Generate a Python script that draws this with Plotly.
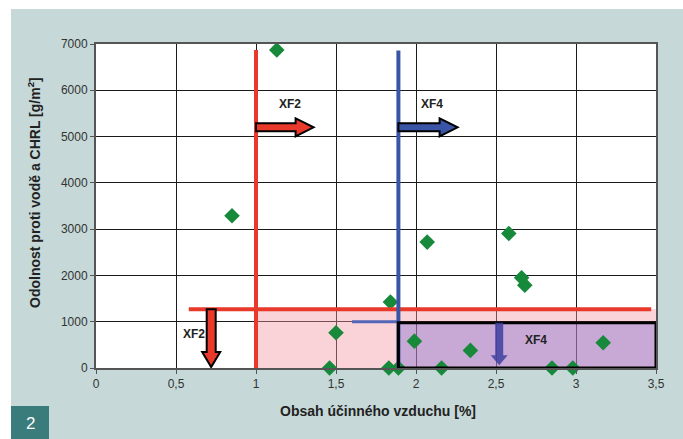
import plotly.graph_objects as go

# ---------------- data ----------------
air_content = [1.13, 0.85, 1.46, 1.50, 1.84, 1.83, 1.89, 1.99, 2.07, 2.16,
               2.34, 2.58, 2.66, 2.68, 2.85, 2.98, 3.17]
resistance = [6870, 3290, 0, 760, 1425, 0, 0, 580, 2720, 0,
              380, 2905, 1950, 1790, 0, 0, 545]

x_ticks = [0, 0.5, 1, 1.5, 2, 2.5, 3, 3.5]
x_tick_labels = ["0", "0,5", "1", "1,5", "2", "2,5", "3", "3,5"]
y_ticks = [0, 1000, 2000, 3000, 4000, 5000, 6000, 7000]
y_tick_labels = [str(v) for v in y_ticks]

# class limits (XF2 / XF4)
xf2_air_min = 1.0
xf4_air_min = 1.89
xf2_loss_max = 1270
xf4_loss_max = 980
line_top = 6870

# ---------------- layout geometry ----------------
W, H = 683, 439
M = dict(l=96, r=27, t=44, b=71)
X_RANGE = [0, 3.5]
Y_RANGE = [0, 7000]
PX_X = (W - M["l"] - M["r"]) / (X_RANGE[1] - X_RANGE[0])
PX_Y = (H - M["t"] - M["b"]) / (Y_RANGE[1] - Y_RANGE[0])
PW = W - M["l"] - M["r"]
PH = H - M["t"] - M["b"]


def px_to_paper_x(px):
    return (px - M["l"]) / PW


def px_to_paper_y(py):
    return (H - M["b"] - py) / PH


def path(pts):
    return "M " + " L ".join(f"{a:.4f},{b:.2f}" for a, b in pts) + " Z"


def right_arrow(x0, x1, y, shaft=8, head=18, head_len=18):
    hs = shaft / 2 / PX_Y
    hh = head / 2 / PX_Y
    xb = x1 - head_len / PX_X
    return path([(x0, y - hs), (xb, y - hs), (xb, y - hh), (x1, y),
                 (xb, y + hh), (xb, y + hs), (x0, y + hs)])


def down_arrow(x, y0, y1, shaft=9, head=18, head_len=15):
    hs = shaft / 2 / PX_X
    hh = head / 2 / PX_X
    yb = y1 + head_len / PX_Y
    return path([(x - hs, y0), (x - hs, yb), (x - hh, yb), (x, y1),
                 (x + hh, yb), (x + hs, yb), (x + hs, y0)])


RED = "#e8392b"
BLUE = "#3b55a6"
GREEN = "#16893b"
BG = "#c6d9d8"
FONT = "Liberation Sans, Arial, sans-serif"

fig = go.Figure()
fig.add_trace(go.Scatter(
    x=air_content, y=resistance, mode="markers",
    marker=dict(symbol="diamond", size=12, color=GREEN),
    cliponaxis=False, showlegend=False, hoverinfo="skip"))

shapes = []
# page frame (white strips top/left, teal box with figure number)
shapes.append(dict(type="rect", xref="paper", yref="paper", layer="below",
                   x0=-1, x1=2, y0=px_to_paper_y(9), y1=3,
                   fillcolor="white", line=dict(width=0)))
shapes.append(dict(type="rect", xref="paper", yref="paper", layer="below",
                   x0=-1, x1=px_to_paper_x(11), y0=-1, y1=3,
                   fillcolor="white", line=dict(width=0)))
shapes.append(dict(type="rect", xref="paper", yref="paper", layer="below",
                   x0=px_to_paper_x(11), x1=px_to_paper_x(49),
                   y0=px_to_paper_y(445), y1=px_to_paper_y(406),
                   fillcolor="#3a7b7b", line=dict(width=0)))

# shaded zones
shapes.append(dict(type="rect", xref="x", yref="y", layer="between",
                   x0=xf2_air_min, x1=X_RANGE[1], y0=0, y1=xf2_loss_max,
                   fillcolor="rgba(240,150,160,0.42)", line=dict(width=0)))
shapes.append(dict(type="rect", xref="x", yref="y", layer="between",
                   x0=xf4_air_min, x1=X_RANGE[1], y0=0, y1=xf4_loss_max,
                   fillcolor="rgba(120,100,210,0.38)", line=dict(width=0)))

# limit lines
shapes.append(dict(type="line", xref="x", yref="y", layer="above",
                   x0=xf2_air_min, x1=xf2_air_min, y0=0, y1=line_top,
                   line=dict(color=RED, width=4)))
shapes.append(dict(type="line", xref="x", yref="y", layer="above",
                   x0=0.58, x1=3.47, y0=xf2_loss_max, y1=xf2_loss_max,
                   line=dict(color=RED, width=4)))
shapes.append(dict(type="line", xref="x", yref="y", layer="above",
                   x0=xf4_air_min, x1=xf4_air_min, y0=0, y1=line_top - 10,
                   line=dict(color=BLUE, width=4)))
shapes.append(dict(type="line", xref="x", yref="y", layer="between",
                   x0=1.6, x1=xf4_air_min, y0=1000, y1=1000,
                   line=dict(color="#5566b8", width=3)))
shapes.append(dict(type="rect", xref="x", yref="y", layer="above",
                   x0=xf4_air_min, x1=X_RANGE[1], y0=0, y1=xf4_loss_max,
                   line=dict(color="black", width=3)))

# arrows
shapes.append(dict(type="path", xref="x", yref="y", layer="above",
                   path=right_arrow(xf2_air_min, 1.36, 5200),
                   fillcolor=RED, line=dict(color="black", width=2)))
shapes.append(dict(type="path", xref="x", yref="y", layer="above",
                   path=right_arrow(xf4_air_min, 2.26, 5200),
                   fillcolor=BLUE, line=dict(color="black", width=2)))
shapes.append(dict(type="path", xref="x", yref="y", layer="above",
                   path=down_arrow(0.72, xf2_loss_max, 20),
                   fillcolor=RED, line=dict(color="black", width=2)))
shapes.append(dict(type="path", xref="x", yref="y", layer="above",
                   path=down_arrow(2.52, xf4_loss_max, 60, shaft=8, head=17, head_len=10),
                   fillcolor="rgba(60,64,160,0.85)", line=dict(width=0)))

lab = dict(family=FONT, size=12, color="#222")
C = dict(xanchor="center", yanchor="middle", showarrow=False)
annotations = [
    dict(x=1.21, y=5700, xref="x", yref="y", text="<b>XF2</b>", font=lab, **C),
    dict(x=2.10, y=5700, xref="x", yref="y", text="<b>XF4</b>", font=lab, **C),
    dict(x=0.61, y=735, xref="x", yref="y", text="<b>XF2</b>", font=lab, **C),
    dict(x=2.75, y=600, xref="x", yref="y", text="<b>XF4</b>", font=lab, **C),
    dict(x=px_to_paper_x(378), y=px_to_paper_y(411), xref="paper", yref="paper",
         text="<b>Obsah účinného vzduchu [%]</b>",
         font=dict(family=FONT, size=14, color="#222"), **C),
    dict(x=px_to_paper_x(34), y=px_to_paper_y(193), xref="paper", yref="paper",
         text="<b>Odolnost proti vodě a CHRL [g/m<sup>2</sup>]</b>",
         textangle=-90, font=dict(family=FONT, size=14, color="#222"), **C),
    dict(x=px_to_paper_x(30), y=px_to_paper_y(424), xref="paper", yref="paper",
         text="2", font=dict(family=FONT, size=17, color="white"), **C),
]

axis_common = dict(
    showgrid=True, gridcolor="#1a1a1a", gridwidth=1,
    zeroline=False, showline=True, linecolor="#555", linewidth=2, mirror=True,
    ticks="outside", ticklen=4, tickcolor="#555",
    tickfont=dict(family=FONT, size=12, color="#333"),
)

fig.update_layout(
    width=W, height=H, autosize=False,
    margin=M,
    paper_bgcolor=BG, plot_bgcolor="white",
    shapes=shapes, annotations=annotations,
    xaxis=dict(range=X_RANGE, tickvals=x_ticks, ticktext=x_tick_labels, **axis_common),
    yaxis=dict(range=Y_RANGE, tickvals=y_ticks, ticktext=y_tick_labels, **axis_common),
    showlegend=False,
)

fig.write_html("out.html", config={"displayModeBar": False},
               post_script="document.body.style.margin='0';document.body.style.overflow='hidden';")
